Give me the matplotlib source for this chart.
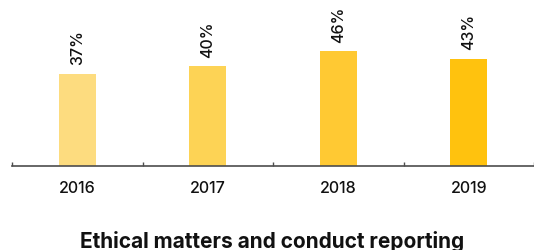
import matplotlib
matplotlib.use("Agg")
import matplotlib.pyplot as plt

years = ["2016", "2017", "2018", "2019"]
shares = [37, 40, 46, 43]
bar_colors = ["#FDDC7F", "#FDD355", "#FFC933", "#FFC20E"]
title = "Ethical matters and conduct reporting"

plt.rcParams["font.family"] = ["Inter", "Liberation Sans", "DejaVu Sans"]

fig = plt.figure(figsize=(5.34, 2.51), dpi=100)
ax = fig.add_axes([12 / 534, 84 / 251, 522 / 534, 167 / 251])

x = list(range(len(years)))
bars = ax.bar(x, shares, width=0.285, color=bar_colors, zorder=2)

for rect, v in zip(bars, shares):
    ax.annotate(f"{v}%", (rect.get_x() + rect.get_width() / 2, rect.get_height()),
                xytext=(0, 9), textcoords="offset pixels",
                ha="center", va="bottom", rotation=90, fontsize=11.5,
                fontweight="medium", color="#111111")

ax.set_xlim(-0.5, -0.5 + 522 / 133)
ax.set_ylim(0, 167 / 2.5)

for s in ["top", "right", "left"]:
    ax.spines[s].set_visible(False)
ax.spines["bottom"].set_color("#4d4d4d")
ax.spines["bottom"].set_linewidth(1.2)

ax.set_yticks([])
ax.set_xticks([i - 0.5 for i in range(len(years) + 1)])
ax.set_xticklabels([])
ax.tick_params(axis="x", which="major", direction="in", length=3, width=1, color="#4d4d4d")
ax.set_xticks(x, minor=True)
ax.set_xticklabels(years, minor=True, fontsize=11.5, fontweight="medium", color="#111111")
ax.tick_params(axis="x", which="minor", length=0, pad=10)

fig.text(0.51, 3 / 251, title, ha="center", va="baseline",
         fontsize=15, fontweight="bold", color="#111111")

fig.savefig("out.png", dpi=100)
